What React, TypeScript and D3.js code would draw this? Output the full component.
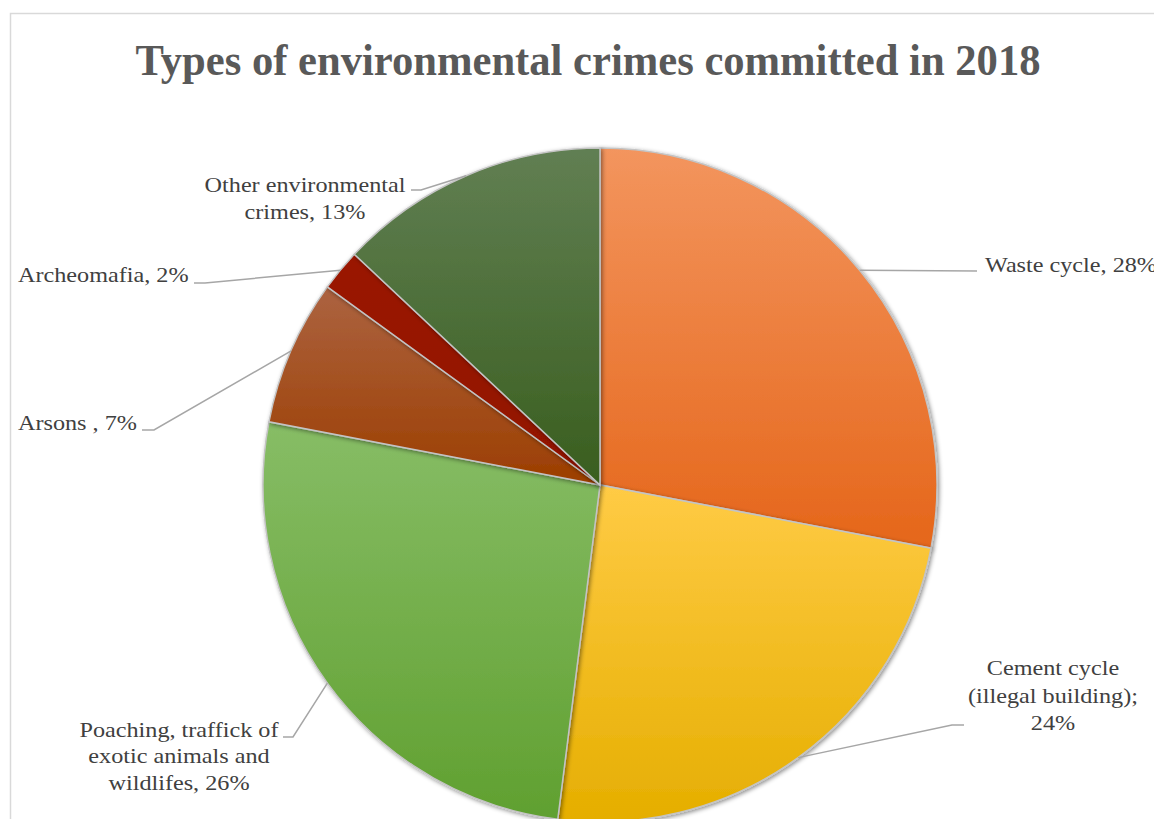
import React from "react";
import * as d3 from "d3";

const categories = [
  "Waste cycle",
  "Cement cycle (illegal building)",
  "Poaching, traffick of exotic animals and wildlifes",
  "Arsons",
  "Archeomafia",
  "Other environmental crimes",
];
const values = [28, 24, 26, 7, 2, 13];
const labelLines = [
  ["Waste cycle, 28%"],
  ["Cement cycle", "(illegal building);", "24%"],
  ["Poaching, traffick of", "exotic animals and", "wildlifes, 26%"],
  ["Arsons , 7%"],
  ["Archeomafia, 2%"],
  ["Other environmental", "crimes, 13%"],
];
const title = "Types of environmental crimes committed in 2018";

const colorsTop = ["#F3955E", "#FFCB45", "#87BD66", "#AC6341", "#9A1500", "#617F53"];
const colorsBottom = ["#E5661A", "#E5AE00", "#60A030", "#9C3E00", "#921100", "#395E1E"];

// layout for labels
const labelLayout = [
  { x: 985, ys: [272], anchor: "start", elbow: [[977, 271]] },
  { x: 1053, ys: [675, 703, 730], anchor: "middle", elbow: [[952, 725], [964, 725]] },
  { x: 179, ys: [737, 763, 790], anchor: "middle", elbow: [[293, 737], [283, 737]] },
  { x: 18, ys: [430], anchor: "start", elbow: [[154, 430], [142, 430]] },
  { x: 18, ys: [282], anchor: "start", elbow: [[205, 283], [194, 283]] },
  { x: 305, ys: [192, 219], anchor: "middle", elbow: [[421, 190], [411, 190]] },
];

export default function App() {
  const W = 1154;
  const H = 819;
  const cx = 600;
  const cy = 485;
  const r = 337;

  const pie = d3.pie<number>().sort(null).value((d) => d);
  const arcs = pie(values);
  const arcGen = d3.arc<d3.PieArcDatum<number>>().innerRadius(0).outerRadius(r);

  return (
    <svg
      width={W}
      height={H}
      style={{ position: "absolute", left: 0, top: 0, background: "#fff" }}
    >
      <defs>
        {values.map((_, i) => (
          <linearGradient key={i} id={`g${i}`} x1="0" y1="0" x2="0" y2="1">
            <stop offset="0%" stopColor={colorsTop[i]} />
            <stop offset="100%" stopColor={colorsBottom[i]} />
          </linearGradient>
        ))}
        <filter id="sh" x="-20%" y="-20%" width="140%" height="140%">
          <feDropShadow dx="1.5" dy="1.5" stdDeviation="2.2" floodColor="#000" floodOpacity="0.45" />
        </filter>
      </defs>
      <rect x={10.5} y={13.5} width={W + 20} height={H + 20} fill="#fff" stroke="#d9d9d9" strokeWidth={1.5} />
      <text
        x={588}
        y={75}
        textAnchor="middle"
        fontFamily="'Liberation Serif', 'Times New Roman', serif"
        fontWeight="bold"
        fontSize={45}
        fill="#595959"
        textLength={905}
        lengthAdjust="spacingAndGlyphs"
      >
        {title}
      </text>
      <g transform={`translate(${cx},${cy})`}>
        {arcs.map((a, i) => (
          <path
            key={categories[i]}
            d={arcGen(a) || ""}
            fill={`url(#g${i})`}
            stroke="#c4c4c4"
            strokeWidth={1.5}
            filter="url(#sh)"
          />
        ))}
      </g>
      {arcs.map((a, i) => {
        const mid = (a.startAngle + a.endAngle) / 2;
        const px = cx + r * Math.sin(mid);
        const py = cy - r * Math.cos(mid);
        const L = labelLayout[i];
        const pts = [[px, py], ...L.elbow];
        const line = d3.line()(pts as [number, number][]) || "";
        return (
          <g key={"l" + i}>
            <path d={line} fill="none" stroke="#a6a6a6" strokeWidth={1.5} />
            <g transform={`translate(${L.x},0) scale(1.1,1)`}>
              <text
                fontFamily="'Liberation Serif', 'Times New Roman', serif"
                fontSize={22}
                fill="#404040"
                textAnchor={L.anchor}
              >
                {labelLines[i].map((t, j) => (
                  <tspan key={j} x={0} y={L.ys[j]}>
                    {t}
                  </tspan>
                ))}
              </text>
            </g>
          </g>
        );
      })}
    </svg>
  );
}
